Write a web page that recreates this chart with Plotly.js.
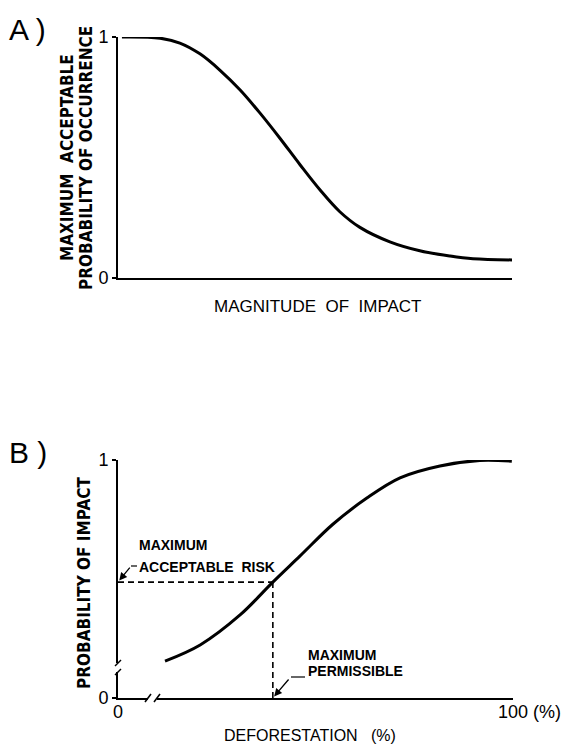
<!DOCTYPE html>
<html>
<head>
<meta charset="utf-8">
<script src="https://cdn.plot.ly/plotly-3.0.1.min.js"></script>
<style>html,body{margin:0;padding:0;background:#fff;}#chart{width:565px;height:746px;}</style>
</head>
<body>
<div id="chart"></div>
<script>
// ---- Data ----
// Panel A: maximum acceptable probability of occurrence vs magnitude of impact
var magnitude = [1, 10.7, 15.7, 20.8, 25.9, 31.0, 36.0, 41.1, 46.2, 51.3, 56.3, 61.4, 69.0, 76.6, 84.3, 90.1, 100];
var maxAcceptProb = [1.0, 0.995, 0.975, 0.93, 0.862, 0.78, 0.685, 0.58, 0.47, 0.365, 0.275, 0.21, 0.15, 0.113, 0.091, 0.08, 0.075];

// Panel B: probability of impact vs deforestation (%)
var deforestation = [11.9, 20.8, 30.9, 39.2, 46.1, 54.4, 63.0, 71.4, 81.5, 91.6, 99.7];
var probImpact = [0.155, 0.223, 0.349, 0.487, 0.597, 0.73, 0.84, 0.925, 0.975, 0.998, 0.995];

var maxAcceptableRisk = 0.487;   // probability level
var maxPermissible = 39.2;       // deforestation %

var yTickValsA = [0, 1], yTickTextA = ["0", "1"];
var yTickValsB = [0, 1], yTickTextB = ["0", "1"];
var xTickValsB = [0, 100], xTickTextB = ["0", "100"];

// ---- Layout helpers (pixel -> paper) ----
var W = 565, H = 746;
function PX(x) { return x / W; }
function PY(y) { return 1 - y / H; }

var FONT = "Liberation Sans, Arial, Helvetica, sans-serif";
var NARROW = "Liberation Sans Narrow, DejaVu Sans Condensed, Arial Narrow, Liberation Sans, sans-serif";

var curveLine = {color: "#000", width: 3, shape: "spline", smoothing: 1};
var dashLine = {color: "#000", width: 1.6, dash: "6px,4px"};

var traces = [
  {x: magnitude, y: maxAcceptProb, xaxis: "x", yaxis: "y", mode: "lines", line: curveLine, hoverinfo: "none"},
  {x: deforestation, y: probImpact, xaxis: "x2", yaxis: "y2", mode: "lines", line: curveLine, hoverinfo: "none"},
  {x: [0, maxPermissible], y: [maxAcceptableRisk, maxAcceptableRisk], xaxis: "x2", yaxis: "y2", mode: "lines", line: dashLine, hoverinfo: "none"},
  {x: [maxPermissible, maxPermissible], y: [maxAcceptableRisk, 0], xaxis: "x2", yaxis: "y2", mode: "lines", line: dashLine, hoverinfo: "none"}
];

var axBase = {
  showline: true, linecolor: "#000", linewidth: 2, showgrid: false, zeroline: false,
  fixedrange: true, tickfont: {family: FONT, size: 18, color: "#000"}
};

function merge(a, b) { var o = {}; for (var k in a) o[k] = a[k]; for (var k2 in b) o[k2] = b[k2]; return o; }

var layout = {
  width: W, height: H,
  margin: {l: 0, r: 0, t: 0, b: 0},
  paper_bgcolor: "#fff", plot_bgcolor: "#fff",
  showlegend: false,
  xaxis: merge(axBase, {domain: [PX(118), PX(512)], range: [0, 100], anchor: "y", showticklabels: false, ticks: ""}),
  yaxis: merge(axBase, {domain: [PY(278), PY(37)], range: [0, 1], anchor: "x",
    tickmode: "array", tickvals: yTickValsA, ticktext: yTickTextA, ticks: "outside", ticklen: 4, tickwidth: 2, tickcolor: "#000"}),
  xaxis2: merge(axBase, {domain: [PX(118), PX(513)], range: [0, 100], anchor: "y2",
    tickmode: "array", tickvals: xTickValsB, ticktext: xTickTextB, ticks: "", ticklabelstandoff: -4}),
  yaxis2: merge(axBase, {domain: [PY(698), PY(460)], range: [0, 1], anchor: "x2",
    tickmode: "array", tickvals: yTickValsB, ticktext: yTickTextB, ticks: "outside", ticklen: 4, tickwidth: 2, tickcolor: "#000"}),
  shapes: [
    // y-axis break (panel B)
    {type: "line", xref: "paper", yref: "paper", x0: PX(118), x1: PX(118), y0: PY(663), y1: PY(672), line: {color: "#fff", width: 5}, layer: "above"},
    {type: "line", xref: "paper", yref: "paper", x0: PX(115), x1: PX(121), y0: PY(666), y1: PY(660), line: {color: "#000", width: 1.5}, layer: "above"},
    {type: "line", xref: "paper", yref: "paper", x0: PX(115), x1: PX(121), y0: PY(675), y1: PY(669), line: {color: "#000", width: 1.5}, layer: "above"},
    // x-axis break (panel B)
    {type: "line", xref: "paper", yref: "paper", x0: PX(148), x1: PX(157), y0: PY(698), y1: PY(698), line: {color: "#fff", width: 5}, layer: "above"},
    {type: "line", xref: "paper", yref: "paper", x0: PX(145), x1: PX(151), y0: PY(702), y1: PY(694), line: {color: "#000", width: 1.5}, layer: "above"},
    {type: "line", xref: "paper", yref: "paper", x0: PX(154), x1: PX(160), y0: PY(702), y1: PY(694), line: {color: "#000", width: 1.5}, layer: "above"},
    // leader lines
    {type: "line", xref: "paper", yref: "paper", x0: PX(131), x1: PX(137), y0: PY(566), y1: PY(566), line: {color: "#000", width: 1.2}, layer: "above"},
    {type: "line", xref: "paper", yref: "paper", x0: PX(291), x1: PX(305), y0: PY(677), y1: PY(677), line: {color: "#000", width: 1.2}, layer: "above"}
  ],
  annotations: [
    // panel labels
    {text: "A )", xref: "paper", yref: "paper", x: PX(7), y: PY(29), xanchor: "left", yanchor: "middle", showarrow: false, font: {family: FONT, size: 30, color: "#000"}},
    {text: "B )", xref: "paper", yref: "paper", x: PX(7), y: PY(453), xanchor: "left", yanchor: "middle", showarrow: false, font: {family: FONT, size: 30, color: "#000"}},
    // panel A titles
    {text: "MAGNITUDE  OF  IMPACT", xref: "paper", yref: "paper", x: PX(317), y: PY(307), xanchor: "center", yanchor: "middle", showarrow: false, font: {family: FONT, size: 17, color: "#000"}},
    {text: "<b>MAXIMUM  ACCEPTABLE</b>", xref: "paper", yref: "paper", x: PX(67), y: PY(158), xanchor: "center", yanchor: "middle", textangle: -90, showarrow: false, font: {family: NARROW, size: 17, color: "#000"}},
    {text: "<b>PROBABILITY OF OCCURRENCE</b>", xref: "paper", yref: "paper", x: PX(86), y: PY(158), xanchor: "center", yanchor: "middle", textangle: -90, showarrow: false, font: {family: NARROW, size: 17, color: "#000"}},
    // panel B titles
    {text: "DEFORESTATION   (%)", xref: "paper", yref: "paper", x: PX(310), y: PY(735), xanchor: "center", yanchor: "middle", showarrow: false, font: {family: FONT, size: 16, color: "#000"}},
    {text: "<b>PROBABILITY OF IMPACT</b>", xref: "paper", yref: "paper", x: PX(84), y: PY(583), xanchor: "center", yanchor: "middle", textangle: -90, showarrow: false, font: {family: NARROW, size: 17, color: "#000"}},
    {text: "(%)", xref: "paper", yref: "paper", x: PX(531), y: PY(712), xanchor: "left", yanchor: "middle", showarrow: false, font: {family: FONT, size: 18, color: "#000"}},
    // callouts
    {text: "<b>MAXIMUM</b>", xref: "paper", yref: "paper", x: PX(137), y: PY(545), xanchor: "left", yanchor: "middle", showarrow: false, font: {family: FONT, size: 14, color: "#000"}},
    {text: "<b>ACCEPTABLE  RISK</b>", xref: "paper", yref: "paper", x: PX(137), y: PY(567), xanchor: "left", yanchor: "middle", showarrow: false, font: {family: FONT, size: 14, color: "#000"}},
    {text: "", xref: "x2", yref: "y2", x: 0, y: maxAcceptableRisk, ax: 13, ay: -16, showarrow: true, arrowhead: 2, arrowsize: 1.2, arrowwidth: 1.3, arrowcolor: "#000", standoff: 2},
    {text: "<b>MAXIMUM</b>", xref: "paper", yref: "paper", x: PX(306), y: PY(655), xanchor: "left", yanchor: "middle", showarrow: false, font: {family: FONT, size: 14, color: "#000"}},
    {text: "<b>PERMISSIBLE</b>", xref: "paper", yref: "paper", x: PX(306), y: PY(671), xanchor: "left", yanchor: "middle", showarrow: false, font: {family: FONT, size: 14, color: "#000"}},
    {text: "", xref: "x2", yref: "y2", x: maxPermissible, y: 0, ax: 17, ay: -20, showarrow: true, arrowhead: 2, arrowsize: 1.2, arrowwidth: 1.3, arrowcolor: "#000", standoff: 2}
  ]
};

Plotly.newPlot("chart", traces, layout, {staticPlot: true, displayModeBar: false});
</script>
</body>
</html>
